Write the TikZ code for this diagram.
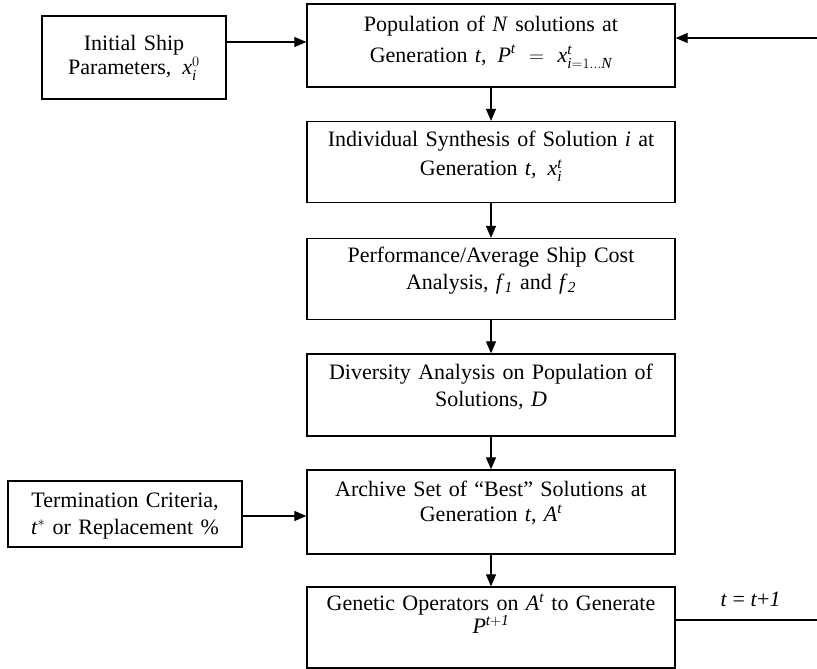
\documentclass[tikz,border=0pt]{standalone}
\usepackage{amsmath}
\usepackage{fontspec}
\setmainfont{Liberation Serif}
\usetikzlibrary{arrows.meta}

% italic letters in the text face, usable inside formulas
\newcommand{\vi}[1]{\textit{#1}}

\begin{document}
\begin{tikzpicture}[x=1pt, y=-1pt,
  every node/.style={font=\fontsize{22}{27}\selectfont},
  stepbox/.style={draw, line width=1.3pt, inner sep=0pt},
  boxtext/.style={text width=#1, align=center, anchor=base, inner sep=0pt},
  flow/.style={line width=1.2pt, -{Triangle[length=12pt, width=10pt]}},
  plain/.style={line width=1.2pt}
]
\useasboundingbox (0,0) rectangle (817,669);

% main column of process boxes
\node[stepbox, minimum width=368pt, minimum height=83pt] (b1) at (491,45.5) {};
\node[stepbox, minimum width=368pt, minimum height=81pt] (b2) at (491,162) {};
\node[stepbox, minimum width=368pt, minimum height=81pt] (b3) at (491,279) {};
\node[stepbox, minimum width=368pt, minimum height=82pt] (b4) at (491,395) {};
\node[stepbox, minimum width=368pt, minimum height=84pt] (b5) at (491,512) {};
\node[stepbox, minimum width=368pt, minimum height=81pt] (b6) at (491,627.5) {};

% input boxes on the left
\node[stepbox, minimum width=184pt, minimum height=83pt] (init) at (134,57.5) {};
\node[stepbox, minimum width=234pt, minimum height=66pt] (term) at (125,514) {};

% box texts
\node[boxtext=360pt] (t1) at ([yshift=-28pt]b1.north)
  {Population of \vi{N} solutions at\\[4pt]
   Generation \vi{t},\, $\vi{P}^{\vi{t}} = \vi{x}^{\vi{t}}_{\vi{i}=1\ldots\vi{N}}$};
\node[boxtext=360pt] (t2) at ([yshift=-26pt]b2.north)
  {Individual Synthesis of Solution \vi{i} at\\[2pt]
   Generation \vi{t},\, $\vi{x}^{\vi{t}}_{\vi{i}}$};
\node[boxtext=360pt] (t3) at ([yshift=-25pt]b3.north)
  {Performance/Average Ship Cost\\
   Analysis, \vi{f}$_{\vi{1}}$ and \vi{f}$_{\vi{2}}$};
\node[boxtext=360pt] (t4) at ([yshift=-26pt]b4.north)
  {Diversity Analysis on Population of\\
   Solutions, \vi{D}};
\node[boxtext=360pt] (t5) at ([yshift=-27pt]b5.north)
  {Archive Set of “Best” Solutions at\\[-2pt]
   Generation \vi{t}, \vi{A}$^{\vi{t}}$};
\node[boxtext=360pt] (t6) at ([yshift=-24pt]b6.north)
  {Genetic Operators on \vi{A}$^{\vi{t}}$ to Generate\\[-4pt]
   \vi{P}$^{\vi{t}+\vi{1}}$};
\node[boxtext=180pt] (ti) at ([yshift=-35pt]init.north)
  {Initial Ship\\[-3pt]
   Parameters,\, $\vi{x}^{0}_{\vi{i}}$};
\node[boxtext=230pt] (tt) at ([yshift=-27pt]term.north)
  {Termination Criteria,\\
   \vi{t}$^{*}$ or Replacement \%};

% downward flow through the column
\draw[flow] (b1) -- (b2);
\draw[flow] (b2) -- (b3);
\draw[flow] (b3) -- (b4);
\draw[flow] (b4) -- (b5);
\draw[flow] (b5) -- (b6);

% inputs from the left
\draw[flow] ([yshift=15.5pt]init.east) -- ([yshift=15.5pt]init.east -| b1.west);
\draw[flow] ([yshift=-2pt]term.east) -- ([yshift=-2pt]term.east -| b5.west);

% generation loop: out of the last box, back into the first
\coordinate (loopout) at (817,620);
\coordinate (loopin) at (817,38);
\draw[plain] (b6.east |- loopout) -- node[pos=0.53, anchor=base, yshift=14pt, inner sep=0pt] (inc)
  {\vi{t} = \vi{t}+\vi{1}} (loopout);
\draw[flow] (loopin) -- (loopin -| b1.east);

\end{tikzpicture}
\end{document}
